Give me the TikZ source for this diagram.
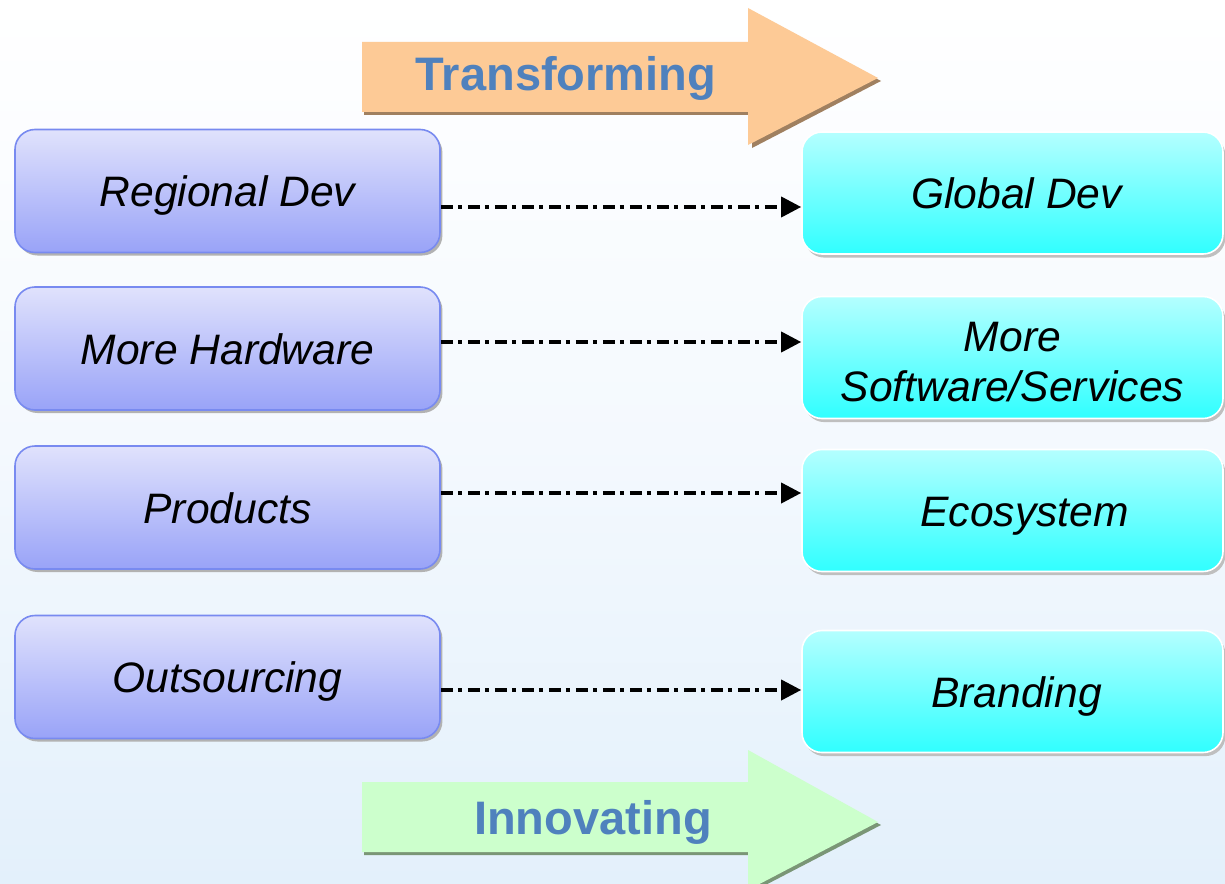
\documentclass[tikz,border=0pt]{standalone}
\usepackage{fontspec}
\setmainfont{Liberation Sans}
\usetikzlibrary{shadows,arrows.meta}
\definecolor{bgbot}{RGB}{227,240,251}
\definecolor{lefttop}{RGB}{224,226,252}
\definecolor{leftbot}{RGB}{153,163,248}
\definecolor{leftline}{RGB}{120,138,240}
\definecolor{righttop}{RGB}{180,255,255}
\definecolor{rightbot}{RGB}{48,255,255}
\definecolor{peach}{RGB}{253,202,150}
\definecolor{peachshadow}{RGB}{160,128,96}
\definecolor{mint}{RGB}{204,255,204}
\definecolor{mintshadow}{RGB}{122,150,118}
\definecolor{labelblue}{RGB}{79,129,189}
\tikzset{
  boxtext/.style={font=\fontsize{21.3}{25}\selectfont\itshape, align=center, text=black},
  lowtext/.style={text height=20pt, text depth=4.4pt},
  leftbox/.style={boxtext, rounded corners=10pt, top color=lefttop, bottom color=leftbot,
     draw=leftline, line width=0.8pt, minimum width=212.5pt, minimum height=61.5pt,
     drop shadow={shadow xshift=1.2pt, shadow yshift=-1.5pt, fill=black!30, opacity=1}},
  rightbox/.style={boxtext, rounded corners=10pt, top color=righttop, bottom color=rightbot,
     draw=white, line width=0.8pt, minimum width=210.5pt, minimum height=61pt,
     drop shadow={shadow xshift=1.2pt, shadow yshift=-1.8pt, fill=black!25, opacity=1}},
  conn/.style={draw=black, line width=1.8pt, dash pattern=on 6pt off 2.5pt on 2pt off 3pt,
     -{Triangle[length=10pt,width=10pt]}},
  biglabel/.style={font=\fontsize{23.5}{28}\selectfont\bfseries, text=labelblue}
}
\begin{document}
\begin{tikzpicture}[x=0.5pt,y=-0.5pt]
\useasboundingbox (0,0) rectangle (1225,883);
\fill[top color=white, bottom color=bgbot, middle color={rgb,255:red,244;green,249;blue,254}] (0,0) rectangle (1225,883);

% big arrows
\fill[peachshadow] (364,46) -- (750,46) -- (750,12) -- (881,81) -- (752,148) -- (752,115) -- (364,115) -- cycle;
\fill[peach] (362,42) -- (748,42) -- (748,8) -- (878,78) -- (748,145) -- (748,112) -- (362,112) -- cycle;
\node[biglabel] (tr) at (566,78) {Transforming};

\fill[mintshadow] (364,786) -- (750,786) -- (750,754) -- (881,825) -- (752,892) -- (752,855) -- (364,855) -- cycle;
\fill[mint] (362,782) -- (748,782) -- (748,750) -- (878,822) -- (748,890) -- (748,852) -- (362,852) -- cycle;
\node[biglabel] (in) at (593,822) {Innovating};

% left boxes
\node[leftbox, lowtext] (L1) at (227.5,191) {Regional Dev};
\node[leftbox, lowtext] (L2) at (227.5,348.5) {More Hardware};
\node[leftbox, lowtext] (L3) at (227.5,507.5) {Products};
\node[leftbox, lowtext] (L4) at (227.5,677) {Outsourcing};

% right boxes
\node[rightbox, lowtext] (R1) at (1012.5,193) {\hspace*{4pt}Global Dev};
\node[rightbox] (R2) at (1012.5,357.5) {\rule{0pt}{19pt}More\\Software/Services};
\node[rightbox, lowtext] (R3) at (1012.5,510.5) {\hspace*{12pt}Ecosystem};
\node[rightbox, lowtext] (R4) at (1012.5,691.5) {\hspace*{4pt}Branding};

% connectors
\draw[conn] (L1.east |- {(0,207)}) -- (R1.west |- {(0,207)});
\draw[conn] (L2.east |- {(0,342)}) -- (R2.west |- {(0,342)});
\draw[conn] (L3.east |- {(0,493)}) -- (R3.west |- {(0,493)});
\draw[conn] (L4.east |- {(0,690)}) -- (R4.west |- {(0,690)});
\end{tikzpicture}
\end{document}
